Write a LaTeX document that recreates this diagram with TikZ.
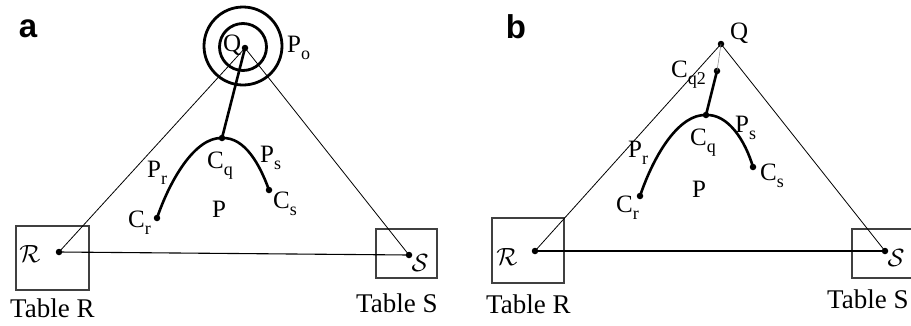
\documentclass[tikz,border=0pt]{standalone}
\usepackage{fontspec}
\setmainfont{Liberation Serif}
\newfontfamily\panelfont{Liberation Sans}
\newcommand\lsub[1]{\raisebox{-7pt}{\fontsize{18}{18}\selectfont #1}}
\begin{document}
\begin{tikzpicture}[x=1pt,y=-1pt,
  lab/.style={anchor=base west,inner sep=0pt,font=\fontsize{25}{25}\selectfont},
  tablab/.style={anchor=base west,inner sep=0pt,font=\fontsize{27}{27}\selectfont},
  panel/.style={anchor=center,inner sep=0pt,font=\fontsize{33}{33}\selectfont\panelfont\bfseries},
  cal/.style={anchor=center,inner sep=0pt,font=\fontsize{28}{28}\selectfont},
  dot/.style={circle,fill=black,inner sep=0pt,minimum size=6.5pt},
  thin/.style={line width=0.8pt},
  base/.style={line width=1.1pt},
  thick/.style={line width=2.6pt},
  ring/.style={line width=2.8pt},
  tbox/.style={draw=black!75,line width=1.2pt,inner sep=0pt},
  faint/.style={line width=0.6pt,black!45}]
\useasboundingbox (0,0) rectangle (911,325);
\clip (0,0) rectangle (911,325);

% ---------------- panel a ----------------
\node[panel] (pa) at (28,29) {a};
\node[tbox,minimum width=73pt,minimum height=64pt] (boxRa) at (52.5,258) {};
\node[tbox,minimum width=61pt,minimum height=49pt] (boxSa) at (406.5,253.5) {};
\draw[ring] (243,46) circle (39);
\draw[ring] (243,47) circle (23.5);
\node[dot] (Qa) at (245,48) {};
\node[dot] (Ra) at (59,252) {};
\node[dot] (Sa) at (409,255) {};
\node[dot] (Cqa) at (222,138) {};
\node[dot] (Cra) at (157,218) {};
\node[dot] (Csa) at (269,190) {};
\draw[thin] (Qa.center) -- (Ra.center);
\draw[thin] (Qa.center) -- (Sa.center);
\draw[base] (Ra.center) -- (Sa.center);
\draw[thick] (Qa.center) -- (Cqa.center);
\draw[thick] (Cra.center) .. controls (170,180) and (195,137) .. (Cqa.center)
  .. controls (245,137) and (260,165) .. (Csa.center);
\node[lab] (lQa) at (223,51) {Q};
\node[lab] (lPoa) at (287,52) {P\lsub{o}};
\node[lab] (lCqa) at (207,168) {C\lsub{q}};
\node[lab] (lPsa) at (260,162) {P\lsub{s}};
\node[lab] (lPra) at (147,177) {P\lsub{r}};
\node[lab] (lCra) at (128,227) {C\lsub{r}};
\node[lab] (lCsa) at (273,208) {C\lsub{s}};
\node[lab] (lPa) at (212,217) {P};
\node[cal] (cRa) at (30,254) {$\mathcal{R}$};
\node[cal] (cSa) at (420,263) {$\mathcal{S}$};
\node[tablab] (tRa) at (10,317) {Table R};
\node[tablab] (tSa) at (356,312) {Table S};

% ---------------- panel b ----------------
\node[panel] (pb) at (516,27) {b};
\node[tbox,minimum width=72pt,minimum height=65pt] (boxRb) at (528,250.5) {};
\node[tbox,minimum width=70pt,minimum height=49pt] (boxSb) at (887,253.5) {};
\node[dot] (Qb) at (721,44) {};
\node[dot] (Cq2b) at (717,71) {};
\node[dot] (Rb) at (535,251) {};
\node[dot] (Sb) at (885,251) {};
\node[dot] (Cqb) at (706,115) {};
\node[dot] (Crb) at (640,196) {};
\node[dot] (Csb) at (753,167) {};
\draw[thin] (Qb.center) -- (Rb.center);
\draw[thin] (Qb.center) -- (Sb.center);
\draw[base] (Rb.center) -- (Sb.center);
\draw[faint] (Qb.center) -- (Cq2b.center);
\draw[thick] (Cq2b.center) -- (Cqb.center);
\draw[thick] (Crb.center) .. controls (655,152) and (680,114) .. (Cqb.center)
  .. controls (728,114) and (745,140) .. (Csb.center);
\node[lab] (lQb) at (730,39) {Q};
\node[lab] (lCq2b) at (671,77) {C\lsub{q2}};
\node[lab] (lCqb) at (690,145) {C\lsub{q}};
\node[lab] (lPsb) at (735,132) {P\lsub{s}};
\node[lab] (lPrb) at (628,157) {P\lsub{r}};
\node[lab] (lCrb) at (616,212) {C\lsub{r}};
\node[lab] (lCsb) at (760,180) {C\lsub{s}};
\node[lab] (lPb) at (692,197) {P};
\node[cal] (cRb) at (507,257) {$\mathcal{R}$};
\node[cal] (cSb) at (896,258) {$\mathcal{S}$};
\node[tablab] (tRb) at (486,313) {Table R};
\node[tablab] (tSb) at (827,308) {Table S};
\end{tikzpicture}
\end{document}
